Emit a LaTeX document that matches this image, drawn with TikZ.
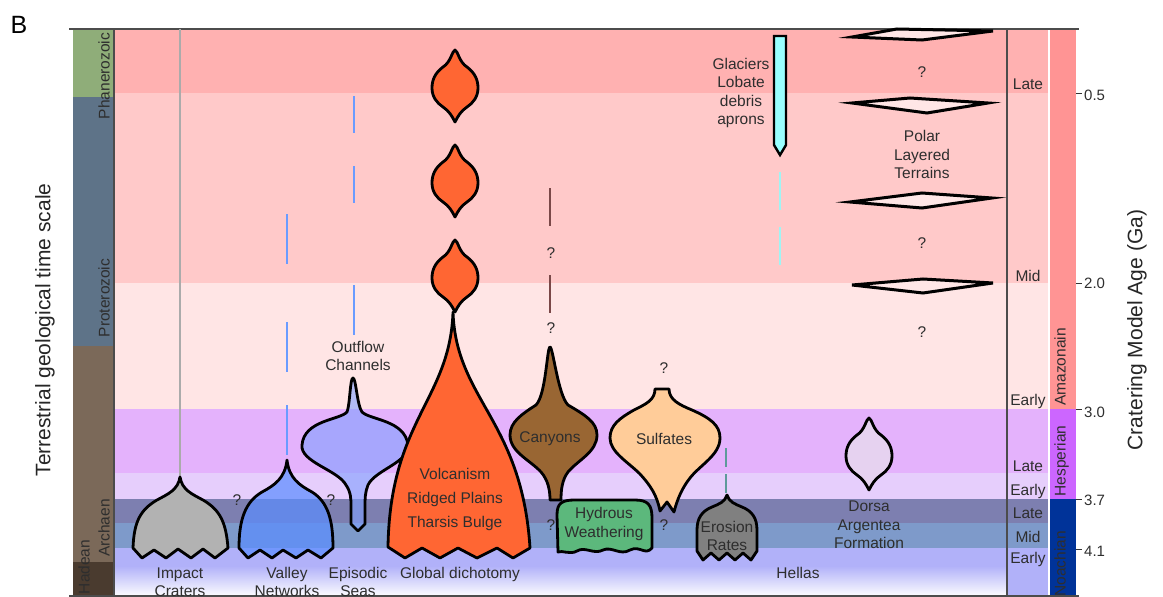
\documentclass[tikz,border=0pt]{standalone}
\usepackage{fontspec}
\setmainfont{Liberation Sans}
\usepackage{xcolor}
\definecolor{ink}{HTML}{2E2E2E}
\definecolor{lateA}{HTML}{FFB1B1}
\definecolor{midA}{HTML}{FFC9C9}
\definecolor{earlyA}{HTML}{FFE5E5}
\definecolor{lateH}{HTML}{E4B2FC}
\definecolor{earlyH}{HTML}{E6CEFC}
\definecolor{lateN}{HTML}{7D7FB0}
\definecolor{midN}{HTML}{7E9ACA}
\definecolor{earlyN}{HTML}{B1B1F9}
\definecolor{amazC}{HTML}{FF9494}
\definecolor{hespC}{HTML}{CC66FF}
\definecolor{noachC}{HTML}{003399}
\definecolor{phanC}{HTML}{8FAD79}
\definecolor{protC}{HTML}{5E7388}
\definecolor{archC}{HTML}{7B6959}
\definecolor{hadC}{HTML}{4A3B2F}
\definecolor{volc}{HTML}{FF6633}
\definecolor{canyC}{HTML}{996633}
\definecolor{sulfC}{HTML}{FFCC99}
\definecolor{hydrC}{HTML}{5CB87C}
\definecolor{glacC}{HTML}{99FFFF}
\definecolor{dorsC}{HTML}{E6D2F0}
\definecolor{lensC}{HTML}{FFE6E6}
\definecolor{vnetC}{HTML}{5A8CFF}
\definecolor{outfC}{HTML}{7F9FFF}
\definecolor{dashB}{HTML}{6A9BFF}
\definecolor{dashBr}{HTML}{7A4848}
\definecolor{dashT}{HTML}{5E9A9A}
\definecolor{dashC}{HTML}{A0F4F4}

\begin{document}
\begin{tikzpicture}[x=1pt, y=-1pt,
  lbl/.style={anchor=base, font=\fontsize{15.5}{18}\selectfont, text=ink, inner sep=0pt},
  ticklbl/.style={anchor=base west, font=\fontsize{15}{18}\selectfont, text=ink, inner sep=0pt},
  sidelbl/.style={rotate=90, font=\fontsize{15.5}{18}\selectfont, text=ink, inner sep=0pt, text height=11pt, text depth=0pt},
  shp/.style={draw=black, line width=2.8pt, line join=round},
  lens/.style={draw=black, line width=3pt, line join=miter, fill=lensC},
  dashmark/.style={line width=2.5pt},
  frame/.style={draw=black!70, line width=1.2pt}]
\useasboundingbox (0,0) rectangle (1163,597);
\fill[lateA] (114,29) rectangle (1048,93);
\fill[midA] (114,93) rectangle (1048,283);
\fill[earlyA] (114,283) rectangle (1048,409);
\fill[lateH] (114,409) rectangle (1048,473);
\fill[earlyH] (114,473) rectangle (1048,499);
\fill[lateN] (114,499) rectangle (1048,523);
\fill[midN] (114,523) rectangle (1048,548);
\fill[earlyN] (114,548) rectangle (1048,597);
\shade[top color=earlyN, bottom color=white] (114,566) rectangle (1007,597);
\fill[amazC] (1050,29) rectangle (1076,409);
\fill[hespC] (1050,409) rectangle (1076,499);
\fill[noachC] (1050,499) rectangle (1076,597);
\fill[phanC] (73,29) rectangle (114,97);
\fill[protC] (73,97) rectangle (114,346);
\fill[archC] (73,346) rectangle (114,562);
\fill[hadC] (73,562) rectangle (114,597);
\draw[frame] (69,29) -- (1079,29);
\draw[frame] (69,596) -- (1079,596);
\draw[frame] (114,29) -- (114,597);
\draw[frame] (1007,29) -- (1007,597);
\draw[black!80, line width=1pt] (1076,93) -- (1082,93);
\draw[black!80, line width=1pt] (1076,283) -- (1082,283);
\draw[black!80, line width=1pt] (1076,409) -- (1082,409);
\draw[black!80, line width=1pt] (1076,499) -- (1082,499);
\draw[black!80, line width=1pt] (1076,549) -- (1082,549);
\node[font=\fontsize{25}{25}\selectfont, anchor=base, inner sep=0pt] (panel) at (19,33) {B};
\node[rotate=90, font=\fontsize{21}{21}\selectfont, text=black!85] (tscale) at (45,330) {Terrestrial geological time scale};
\node[rotate=90, font=\fontsize{21}{21}\selectfont, text=black!85] (agetitle) at (1137,330) {Cratering Model Age (Ga)};
\node[sidelbl] (phan) at (104,76) {Phanerozoic};
\node[sidelbl] (prot) at (104,298) {Proterozoic};
\node[sidelbl] (arch) at (104,528) {Archaen};
\node[sidelbl] (hade) at (84,567) {Hadean};
\node[sidelbl] (amaz) at (1060,367) {Amazonain};
\node[sidelbl] (hesp) at (1060,461) {Hesperian};
\node[sidelbl] (noach) at (1060,564) {Noachian};
\node[lbl] (eLateA) at (1028,89.5) {Late};
\node[lbl] (eMidA) at (1028,281.5) {Mid};
\node[lbl] (eEarlyA) at (1028,405.5) {Early};
\node[lbl] (eLateH) at (1028,471.5) {Late};
\node[lbl] (eEarlyH) at (1028,495.5) {Early};
\node[lbl] (eLateN) at (1028,518.5) {Late};
\node[lbl] (eMidN) at (1028,542.5) {Mid};
\node[lbl] (eEarlyN) at (1028,563.5) {Early};
\node[ticklbl] (t05) at (1084,100.5) {0.5};
\node[ticklbl] (t20) at (1084,288.5) {2.0};
\node[ticklbl] (t30) at (1084,417) {3.0};
\node[ticklbl] (t37) at (1084,505) {3.7};
\node[ticklbl] (t41) at (1084,556) {4.1};
\draw[black!33, line width=2pt] (180,29) -- (180,478);
\draw[dashmark, dashB] (287,214) -- (287,264);
\draw[dashmark, dashB] (287,322) -- (287,372);
\draw[dashmark, dashB] (287,405) -- (287,455);
\draw[dashmark, dashB] (354,96) -- (354,133);
\draw[dashmark, dashB] (354,166) -- (354,203);
\draw[dashmark, dashB] (354,285) -- (354,335);
\draw[dashmark, dashBr] (550,188) -- (550,226);
\draw[dashmark, dashBr] (550,275) -- (550,313);
\draw[dashmark, dashT] (726,448) -- (726,467);
\draw[dashmark, dashT] (726,474) -- (726,493);
\draw[dashmark, dashC] (780,172) -- (780,210);
\draw[dashmark, dashC] (780,227) -- (780,265);
\draw[shp, fill=black!30] (180,477) .. controls (178,490) and (168,494) .. (157,500) .. controls (140,510) and (134,522) .. (133,548) -- (142,558) -- (154,550) -- (166,558) -- (178,549) -- (191,558) -- (203,549) -- (215,558) -- (228,548) .. controls (226,522) and (220,510) .. (203,500) .. controls (192,494) and (182,490) .. (180,477) -- cycle;
\draw[shp, fill=vnetC, fill opacity=0.7] (287,460) .. controls (285,478) and (275,485) .. (262,492) .. controls (245,502) and (239,520) .. (239,548) -- (248,558) -- (260,550) -- (272,558) -- (283,550) -- (296,558) -- (308,550) -- (321,558) -- (333,548) .. controls (333,520) and (328,502) .. (312,492) .. controls (299,485) and (289,478) .. (287,460) -- cycle;
\draw[shp, fill=outfC, fill opacity=0.6] (353,378) .. controls (356,378) and (357,405) .. (362,412) .. controls (370,420) and (405,420) .. (408,445) .. controls (410,462) and (375,470) .. (368,485) .. controls (365,492) and (365,500) .. (365,505) -- (365,524) -- (358,531) -- (351,524) -- (351,505) .. controls (351,500) and (351,492) .. (346,485) .. controls (338,470) and (300,462) .. (302,445) .. controls (304,420) and (340,420) .. (347,412) .. controls (350,405) and (350,378) .. (353,378) -- cycle;
\draw[shp, fill=volc] (453,312) .. controls (456,400) and (522,420) .. (530,548) -- (513,558) -- (497,548) -- (477,558) -- (458,548) -- (440,558) -- (422,548) -- (405,558) -- (388,547) .. controls (390,420) and (450,400) .. (453,312) -- cycle;
\draw[shp, fill=volc, shift={(455,88)}] (0,-38) .. controls (3,-37) and (4,-26) .. (12,-21) .. controls (20,-15) and (23,-8) .. (23,0) .. controls (23,9) and (18,15) .. (12,19) .. controls (6,23) and (3,28) .. (0,34) .. controls (-3,28) and (-6,23) .. (-12,19) .. controls (-18,15) and (-23,9) .. (-23,0) .. controls (-23,-8) and (-20,-15) .. (-12,-21) .. controls (-4,-26) and (-3,-37) .. (0,-38) -- cycle;
\draw[shp, fill=volc, shift={(455,183)}] (0,-38) .. controls (3,-37) and (4,-26) .. (12,-21) .. controls (20,-15) and (23,-8) .. (23,0) .. controls (23,9) and (18,15) .. (12,19) .. controls (6,23) and (3,28) .. (0,34) .. controls (-3,28) and (-6,23) .. (-12,19) .. controls (-18,15) and (-23,9) .. (-23,0) .. controls (-23,-8) and (-20,-15) .. (-12,-21) .. controls (-4,-26) and (-3,-37) .. (0,-38) -- cycle;
\draw[shp, fill=volc, shift={(455,278)}] (0,-38) .. controls (3,-37) and (4,-26) .. (12,-21) .. controls (20,-15) and (23,-8) .. (23,0) .. controls (23,9) and (18,15) .. (12,19) .. controls (6,23) and (3,28) .. (0,34) .. controls (-3,28) and (-6,23) .. (-12,19) .. controls (-18,15) and (-23,9) .. (-23,0) .. controls (-23,-8) and (-20,-15) .. (-12,-21) .. controls (-4,-26) and (-3,-37) .. (0,-38) -- cycle;
\draw[shp, fill=canyC] (550,347) .. controls (553,347) and (558,395) .. (568,405) .. controls (585,415) and (597,422) .. (597,435) .. controls (597,452) and (578,460) .. (568,472) .. controls (562,480) and (561,490) .. (561,500) -- (550,500) .. controls (550,490) and (548,480) .. (541,472) .. controls (530,460) and (510,452) .. (510,435) .. controls (510,422) and (522,414) .. (536,405) .. controls (546,395) and (547,347) .. (550,347) -- cycle;
\draw[shp, fill=hydrC] (557,515) .. controls (557,503) and (562,500) .. (575,500) -- (635,500) .. controls (648,500) and (652,505) .. (652,518) -- (652,548) .. controls (645,556) and (640,545) .. (630,550) .. controls (620,556) and (612,546) .. (603,550) .. controls (594,555) and (585,546) .. (577,551) .. controls (570,555) and (562,550) .. (558,552) -- cycle;
\draw[shp, fill=sulfC] (655,389) -- (669,389) .. controls (669,400) and (680,405) .. (692,410) .. controls (710,418) and (720,425) .. (720,438) .. controls (720,455) and (700,465) .. (690,478) .. controls (682,488) and (677,500) .. (674,512) -- (667,502) -- (660,511) .. controls (657,495) and (650,485) .. (640,474) .. controls (628,462) and (610,452) .. (610,438) .. controls (610,425) and (620,418) .. (634,410) .. controls (646,404) and (655,400) .. (655,389) -- cycle;
\draw[shp, fill=black!50] (727,495) .. controls (729,502) and (735,504) .. (742,507) .. controls (752,511) and (757,518) .. (757,530) -- (757,551) -- (751,560) -- (743,553) -- (735,560) -- (727,553) -- (719,560) -- (711,553) -- (703,560) -- (697,551) -- (697,530) .. controls (697,518) and (702,511) .. (712,507) .. controls (719,504) and (725,502) .. (727,495) -- cycle;
\draw[line width=2.4pt, line join=miter, fill=glacC] (774,36) -- (786,36) -- (786,145) -- (780,155) -- (774,145) -- cycle;
\draw[lens] (852,37) -- (897,29) -- (993,31) -- (922,40) -- cycle;
\draw[lens] (852,103) -- (910,98) -- (988,103) -- (927,113) -- cycle;
\draw[lens] (850,202) -- (922,193) -- (992,198) -- (922,208) -- cycle;
\draw[lens] (852,285) -- (923,279) -- (993,283) -- (923,293) -- cycle;
\draw[shp, fill=dorsC, shift={(869,456)}] (0,-38) .. controls (3,-37) and (4,-26) .. (12,-21) .. controls (20,-15) and (23,-8) .. (23,0) .. controls (23,9) and (18,15) .. (12,19) .. controls (6,23) and (3,28) .. (0,34) .. controls (-3,28) and (-6,23) .. (-12,19) .. controls (-18,15) and (-23,9) .. (-23,0) .. controls (-23,-8) and (-20,-15) .. (-12,-21) .. controls (-4,-26) and (-3,-37) .. (0,-38) -- cycle;
\node[lbl] (q1) at (237,505.5) {?};
\node[lbl] (q2) at (331,505.5) {?};
\node[lbl] (q3) at (551,258.5) {?};
\node[lbl] (q4) at (551,333.5) {?};
\node[lbl] (q5) at (551,530.5) {?};
\node[lbl] (q6) at (664,373.5) {?};
\node[lbl] (q7) at (664,530.5) {?};
\node[lbl] (q8) at (922,77) {?};
\node[lbl] (q9) at (922,248.5) {?};
\node[lbl] (q10) at (922,337.5) {?};
\node[lbl] (outfA) at (358,352.5) {Outflow};
\node[lbl] (outfB) at (358,370.5) {Channels};
\node[lbl] (volcA) at (455,479.5) {Volcanism};
\node[lbl] (volcB) at (455,503) {Ridged Plains};
\node[lbl] (volcC) at (455,527) {Tharsis Bulge};
\node[lbl] (canyA) at (550,442) {Canyons};
\node[lbl] (hydrA) at (604,518.5) {Hydrous};
\node[lbl] (hydrB) at (604,537) {Weathering};
\node[lbl] (sulfA) at (664,444.5) {Sulfates};
\node[lbl] (erosA) at (727,532) {Erosion};
\node[lbl] (erosB) at (727,550.5) {Rates};
\node[lbl] (glacA) at (741,69.5) {Glaciers};
\node[lbl] (glacB) at (741,87.5) {Lobate};
\node[lbl] (glacC) at (741,106) {debris};
\node[lbl] (glacD) at (741,124) {aprons};
\node[lbl] (polrA) at (922,141.5) {Polar};
\node[lbl] (polrB) at (922,160.5) {Layered};
\node[lbl] (polrC) at (922,178.5) {Terrains};
\node[lbl] (dorsA) at (869,511) {Dorsa};
\node[lbl] (dorsB) at (869,530) {Argentea};
\node[lbl] (dorsC) at (869,548) {Formation};
\node[lbl] (impA) at (180,578) {Impact};
\node[lbl] (impB) at (180,596) {Craters};
\node[lbl] (valA) at (287,578) {Valley};
\node[lbl] (valB) at (287,596) {Networks};
\node[lbl] (episA) at (358,578) {Episodic};
\node[lbl] (episB) at (358,596) {Seas};
\node[lbl] (globA) at (460,578.5) {Global dichotomy};
\node[lbl] (hellA) at (798,578) {Hellas};
\end{tikzpicture}
\end{document}
